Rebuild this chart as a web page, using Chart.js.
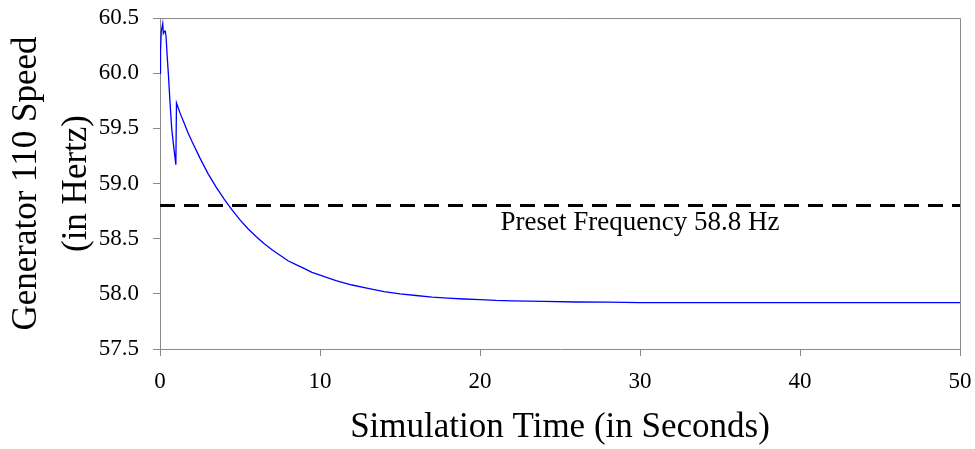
<!DOCTYPE html>
<html>
<head>
<meta charset="utf-8">
<script src="https://cdn.jsdelivr.net/npm/chart.js@4"></script>
<style>
  html, body { margin: 0; padding: 0; background: #fff; }
  canvas { display: block; }
</style>
</head>
<body>
<canvas id="chart" width="975" height="449"></canvas>
<script>
  // simulation time (s) and generator 110 speed (Hz)
  const timeSec = [0, 0.03, 0.08, 0.17, 0.21, 0.28, 0.33, 0.38, 0.45, 0.52, 0.62, 0.73, 0.86, 0.99,
    1.03, 1.25, 1.5, 1.75, 2, 2.5, 3, 3.5, 4, 4.5, 5, 5.5, 6, 6.5, 7, 7.5, 8, 8.5, 9, 9.5, 10,
    11, 12, 13, 14, 15, 16, 17, 18, 19, 20, 21, 22, 24, 26, 28, 30, 35, 40, 45, 50];
  const speedHz = [60.00, 60.20, 60.38, 60.45, 60.36, 60.38, 60.38, 60.33, 60.15, 60.00, 59.75, 59.50, 59.33, 59.17,
    59.73, 59.64, 59.55, 59.46, 59.38, 59.23, 59.09, 58.97, 58.86, 58.76, 58.67, 58.59, 58.52, 58.457, 58.40, 58.35,
    58.30, 58.264, 58.23, 58.195, 58.17,
    58.12, 58.08, 58.05, 58.02, 58.00, 57.985, 57.97, 57.962, 57.953, 57.947, 57.94, 57.937, 57.931, 57.926, 57.924,
    57.92, 57.92, 57.92, 57.92, 57.92];

  const presetTime = [0, 50];
  const presetHz = [58.8, 58.8];
  const presetLabel = "Preset Frequency 58.8 Hz";
  const presetLabelAt = { x: 30, y: 58.58 };

  const xTicks = [0, 10, 20, 30, 40, 50];
  const yTicks = [57.5, 58.0, 58.5, 59.0, 59.5, 60.0, 60.5];

  const serif = "'Liberation Serif', 'Times New Roman', serif";
  const axisGray = "#8a8a8a";

  const toPoints = (xs, ys) => xs.map((x, i) => ({ x, y: ys[i] }));

  // top and right edges of the plot box
  const frameBox = {
    id: "frameBox",
    beforeDatasetsDraw(chart) {
      const { ctx, chartArea: a } = chart;
      ctx.save();
      ctx.strokeStyle = axisGray;
      ctx.lineWidth = 1;
      ctx.beginPath();
      ctx.moveTo(a.left, a.top + 0.5);
      ctx.lineTo(a.right + 0.5, a.top + 0.5);
      ctx.lineTo(a.right + 0.5, a.bottom);
      ctx.stroke();
      ctx.restore();
    }
  };

  const presetText = {
    id: "presetText",
    afterDatasetsDraw(chart) {
      const { ctx, scales } = chart;
      ctx.save();
      ctx.font = "27px " + serif;
      ctx.fillStyle = "#000";
      ctx.textAlign = "center";
      ctx.textBaseline = "alphabetic";
      ctx.fillText(presetLabel, scales.x.getPixelForValue(presetLabelAt.x), scales.y.getPixelForValue(presetLabelAt.y));
      ctx.restore();
    }
  };

  new Chart(document.getElementById("chart"), {
    type: "line",
    data: {
      datasets: [
        {
          data: toPoints(timeSec, speedHz),
          borderColor: "#0000ff",
          borderWidth: 1.3,
          pointRadius: 0,
          tension: 0
        },
        {
          data: toPoints(presetTime, presetHz),
          borderColor: "#000",
          borderWidth: 3,
          borderDash: [15, 9],
          pointRadius: 0,
          tension: 0
        }
      ]
    },
    options: {
      responsive: false,
      animation: false,
      parsing: false,
      layout: { padding: { top: 18, right: 15, left: 0, bottom: 0 } },
      plugins: { legend: { display: false }, tooltip: { enabled: false } },
      scales: {
        x: {
          type: "linear",
          min: 0,
          max: 50,
          afterBuildTicks: (s) => { s.ticks = xTicks.map((v) => ({ value: v })); },
          afterFit: (s) => { s.height = 100; s.paddingLeft = 0; s.paddingRight = 0; },
          ticks: { color: "#000", font: { family: serif, size: 23 }, padding: 12, maxRotation: 0 },
          grid: { drawOnChartArea: false, tickLength: 7, color: axisGray },
          border: { color: axisGray },
          title: {
            display: true,
            text: "Simulation Time (in Seconds)",
            color: "#000",
            font: { family: serif, size: 35, lineHeight: 1.2 },
            padding: { top: 0, bottom: 0 }
          }
        },
        y: {
          type: "linear",
          min: 57.5,
          max: 60.5,
          afterBuildTicks: (s) => { s.ticks = yTicks.map((v) => ({ value: v })); },
          afterFit: (s) => { s.width = 160; s.paddingTop = 0; s.paddingBottom = 0; },
          ticks: {
            color: "#000",
            font: { family: serif, size: 23 },
            padding: 14,
            callback: (v) => Number(v).toFixed(1)
          },
          grid: { drawOnChartArea: false, tickLength: 7, color: axisGray },
          border: { color: axisGray },
          title: {
            display: true,
            text: ["Generator 110 Speed", "(in Hertz)"],
            color: "#000",
            font: { family: serif, size: 35, lineHeight: 1.43 },
            padding: { top: 2, bottom: 0 }
          }
        }
      }
    },
    plugins: [frameBox, presetText]
  });
</script>
</body>
</html>
